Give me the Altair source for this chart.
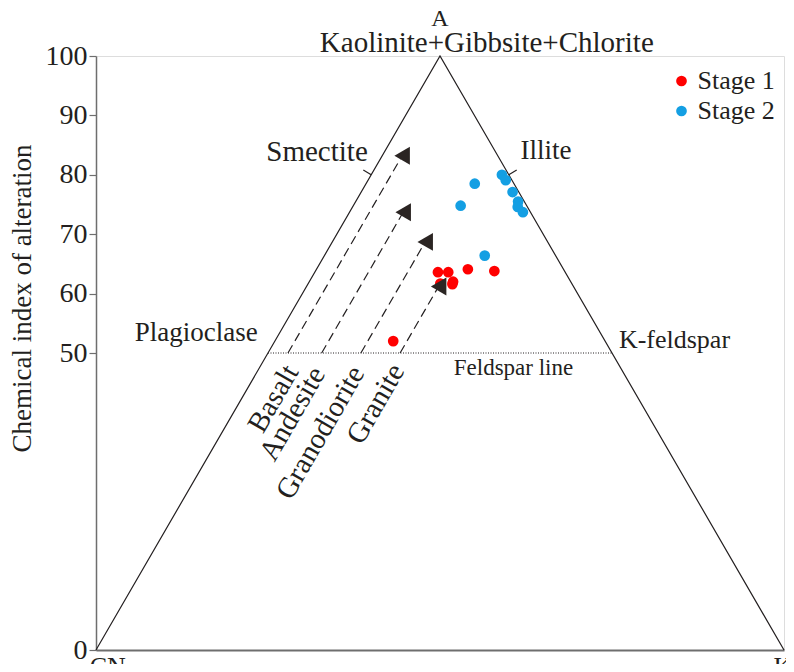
import altair as alt
import pandas as pd

# ---------------- data ----------------
stage1_cia = [63.6, 63.6, 64.1, 63.8, 61.7, 61.6, 62.0, 52.0]
stage1_k = [17.9, 19.4, 22.0, 26.0, 19.2, 21.0, 20.9, 17.2]
stage2_cia = [80.0, 79.1, 78.5, 77.1, 75.5, 74.6, 73.7, 74.8, 66.4]
stage2_k = [19.0, 20.0, 15.8, 22.0, 23.6, 24.0, 25.2, 15.6, 23.3]

rock_types = ["Basalt", "Andesite", "Granodiorite", "Granite"]
rock_k = [2.9, 7.8, 13.5, 19.2]          # K position on the feldspar line
trend_end_cia = [83.2, 73.7, 68.7, 61.2]  # CIA where each weathering trend ends

cia_ticks = [0, 50, 60, 70, 80, 90, 100]
stages = ["Stage 1", "Stage 2"]
stage_colors = ["#ff0000", "#149fe3"]

FONT = "Liberation Serif"
INK = "#231f20"
AXIS_GREY = "#6e6e6e"


def tern_x(k, a):
    """ternary -> horizontal plot coordinate (A apex at the middle)"""
    return k + a / 2.0


# ---------------- tables ----------------
pts = pd.DataFrame({
    "stage": ["Stage 1"] * len(stage1_cia) + ["Stage 2"] * len(stage2_cia),
    "A": stage1_cia + stage2_cia,
    "K": stage1_k + stage2_k,
})
pts["x"] = tern_x(pts["K"], pts["A"])
pts["y"] = pts["A"]

tri = pd.DataFrame({"x": [0, 50, 100], "y": [0, 100, 0], "o": [0, 1, 2]})
feld = pd.DataFrame({"x": [25, 75], "y": [50, 50], "o": [0, 1]})
ticks = pd.DataFrame({
    "x": [tern_x(0, 80), tern_x(20, 80)],
    "y": [80, 80],
    "x2": [tern_x(0, 80) - 1.15, tern_x(20, 80) + 1.15],
    "y2": [80.8, 80.8],
})
trends = pd.DataFrame({"rock": rock_types, "K": rock_k, "Aend": trend_end_cia})
trends["x"] = tern_x(trends["K"], 50)
trends["y"] = 50
trends["x2"] = tern_x(trends["K"], trends["Aend"])
trends["y2"] = trends["Aend"]

rock_lbl = pd.DataFrame({
    "rock": rock_types,
    "x": [28.4, 32.3, 38.0, 43.8],
    "y": [47.6, 47.3, 47.4, 47.8],
})

XS = alt.Scale(domain=[0, 100], nice=False, zero=False)
YS = alt.Scale(domain=[0, 100], nice=False, zero=False)


def X(f="x"):
    return alt.X(f"{f}:Q", scale=XS, axis=alt.Axis(
        domain=True, domainColor=AXIS_GREY, domainWidth=2, ticks=False,
        labels=False, grid=False, title=None))


def Y(f="y"):
    return alt.Y(f"{f}:Q", scale=YS, axis=alt.Axis(
        values=cia_ticks, grid=False, domainColor=AXIS_GREY, domainWidth=1.5,
        tickColor=AXIS_GREY, tickSize=7, tickWidth=1.2,
        labelFont=FONT, labelFontSize=28, labelColor=INK, labelPadding=2,
        labelFlush=False, labelOverlap=False,
        title="Chemical index of alteration", titleFont=FONT, titleFontSize=27,
        titleFontWeight="normal", titleColor=INK, titleAngle=270,
        titleX=-74, titleY=242, titleAlign="center", titleBaseline="middle"))


triangle = alt.Chart(tri).mark_line(color=INK, strokeWidth=1.2).encode(
    x=X(), y=Y(), order="o:Q")

feldspar = alt.Chart(feld).mark_line(color=INK, strokeWidth=1, strokeDash=[1, 1.5]).encode(
    x=X(), y=Y(), order="o:Q")

tickmarks = alt.Chart(ticks).mark_rule(color=INK, strokeWidth=1.2).encode(
    x=X(), y=Y(), x2="x2:Q", y2="y2:Q")

trend_lines = alt.Chart(trends).mark_rule(color=INK, strokeWidth=1.2, strokeDash=[9, 5]).encode(
    x=X(), y=Y(), x2="x2:Q", y2="y2:Q")

arrows = alt.Chart(trends).mark_point(
    shape="triangle-left", filled=True, size=320, color="#2b2523", opacity=1
).encode(x=X("x2"), y=Y("y2"))

points = alt.Chart(pts).mark_circle(size=115, opacity=1).encode(
    x=X(), y=Y(),
    color=alt.Color("stage:N", scale=alt.Scale(domain=stages, range=stage_colors),
                    legend=alt.Legend(title=None, orient="none", legendX=572.5, legendY=12,
                                      symbolType="circle", symbolSize=115,
                                      labelFont=FONT, labelFontSize=26, labelColor=INK,
                                      labelOffset=3, rowPadding=4, padding=0)))


def label(text, x, y, align="center", size=26, baseline="middle"):
    d = pd.DataFrame({"t": [text], "x": [x], "y": [y]})
    return alt.Chart(d).mark_text(font=FONT, fontSize=size, color=INK, align=align,
                                  baseline=baseline).encode(x=X(), y=Y(), text="t:N")


texts = [
    label("A", 50, 106.2, size=24),
    label("Kaolinite+Gibbsite+Chlorite", 56.8, 102.2, size=29),
    label("Smectite", 39.5, 83.8, align="right", size=29),
    label("Illite", 61.7, 84.0, align="left", size=27),
    label("Plagioclase", 23.5, 53.4, align="right", size=27),
    label("K-feldspar", 76.0, 52.2, align="left", size=26),
    label("Feldspar line", 52.0, 47.5, align="left", size=23),
    label("CN", 1.7, -0.6, baseline="top"),
    label("K", 99.85, -0.6, baseline="top"),
]

rock_text = alt.Chart(rock_lbl).mark_text(
    font=FONT, fontSize=29, color=INK, align="right", baseline="middle", angle=300
).encode(x=X(), y=Y(), text="rock:N")

chart = alt.layer(
    triangle, feldspar, tickmarks, trend_lines, points, arrows, rock_text, *texts
).properties(
    width=688, height=594,
    padding={"left": 88, "top": 48, "right": 2, "bottom": 14},
    autosize=alt.AutoSizeParams(type="none"),
).configure_view(stroke=None).configure(background="white")

chart.save("out.html", embed_options={"renderer": "svg", "actions": False})
